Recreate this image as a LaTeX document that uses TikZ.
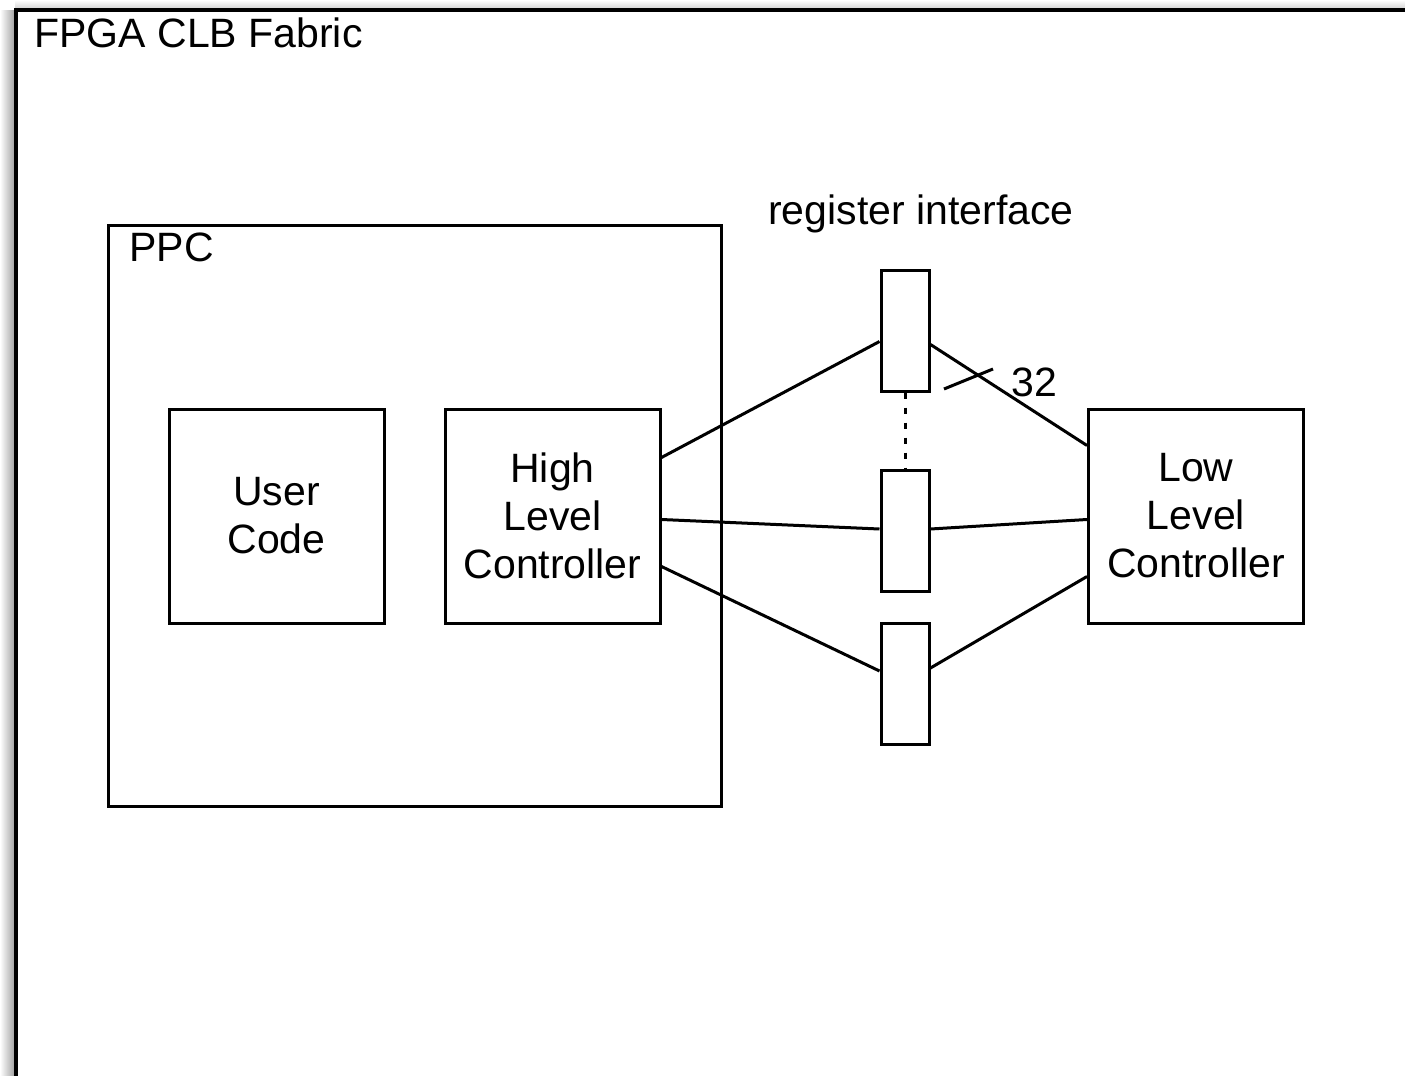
\documentclass[tikz,border=0pt]{standalone}
\usepackage{fontspec}
\setmainfont{Liberation Sans}
\usetikzlibrary{calc}
\begin{document}
\begin{tikzpicture}[x=0.5pt,y=-0.5pt,line width=1.5pt,
  box/.style={draw,rectangle,inner sep=0pt,align=center,font=\fontsize{20.5}{24}\selectfont},
  blk/.style={box,minimum width=107.5pt,minimum height=107pt},
  reg/.style={box,minimum width=24pt,minimum height=60.5pt},
  lbl/.style={inner sep=0pt,font=\fontsize{20.5}{24}\selectfont}]
\useasboundingbox (0,0) rectangle (1405,1076);
\fill[white] (0,0) rectangle (1405,1076);
% shadow
\shade[left color=white,right color=gray!75] (0,10) rectangle (15,1076);
\shade[top color=white,bottom color=gray!35] (15,0) rectangle (1405,9);
% outer frame
\draw[line width=2pt] (16,10) rectangle (1440,1100);
\node[lbl,anchor=base west] (fab) at (33,47) {FPGA CLB Fabric};
% PPC
\node[box,minimum width=306.5pt,minimum height=290.5pt] (ppc) at (414.5,515.5) {};
\node[lbl,anchor=base west] (ppcl) at (128,261) {PPC};
\node[blk] (uc) at (276.5,516) {User\\Code};
\node[blk] (hlc) at (552.5,516) {High\\Level\\Controller};
\node[blk] (llc) at (1196,516) {Low\\Level\\Controller};
% registers
\node[reg] (r1) at (905,330.5) {};
\node[reg] (r2) at (905,531) {};
\node[reg] (r3) at (905,684) {};
\node[lbl,anchor=base] (ri) at (921,224) {register interface};
\draw[dash pattern=on 3pt off 4.5pt] (r1.south) -- (r2.north);
% connectors
\draw ($(hlc.north east)+(0,50)$) -- ($(r1.north west)+(0,73)$);
\draw ($(hlc.north east)+(0,112)$) -- ($(r2.north west)+(0,60)$);
\draw ($(hlc.north east)+(0,159)$) -- ($(r3.north west)+(0,49)$);
\draw ($(r1.north east)+(0,76)$) -- ($(llc.north west)+(0,38)$);
\draw ($(r2.north east)+(0,60)$) -- ($(llc.north west)+(0,112)$);
\draw ($(r3.north east)+(0,46)$) -- ($(llc.north west)+(0,169)$);
% bus width slash
\coordinate (s1) at (944,389);
\coordinate (s2) at (993,369);
\draw (s1) -- (s2);
\node[lbl,anchor=base west] (bw) at (1010,396) {32};
\end{tikzpicture}
\end{document}
